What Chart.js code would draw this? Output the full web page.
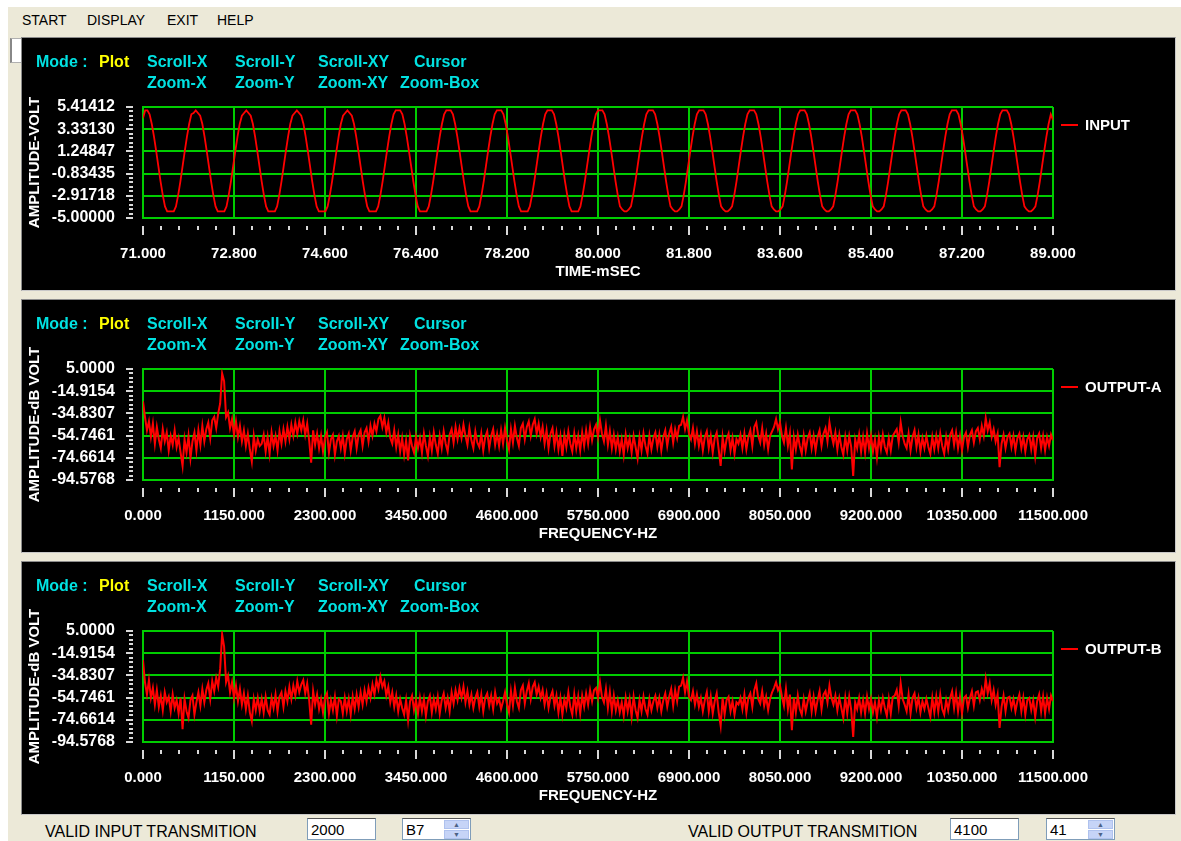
<!DOCTYPE html>
<html>
<head>
<meta charset="utf-8">
<script src="https://cdn.jsdelivr.net/npm/chart.js@4.4.1/dist/chart.umd.min.js"></script>
<style>
  body { margin:0; width:1181px; height:841px; background:#fff; overflow:hidden; position:relative;
         font-family:'Liberation Sans', Arial, sans-serif; }
  #frame { position:absolute; left:8px; top:7px; width:1173px; height:834px; background:#ECE9D8; }
  .menu { position:absolute; top:12px; font-size:14px; color:#000; }
  .thumb { position:absolute; left:10px; top:38px; width:9px; height:23px; background:#fff;
           border:1px solid #b0b0b0; border-left:2px solid #888; }
  .panel { position:absolute; left:21px; width:1153px; height:252px; background:#000;
           border:1px solid #8c8c8c; border-right-color:#c8c8c8; border-bottom-color:#c8c8c8; }
  .panel canvas { position:absolute; left:0; top:0; }
  .mode { position:absolute; font-size:16px; font-weight:bold; line-height:18px; color:#00E2E2; white-space:nowrap; }
  .mode.y { color:#FFFF00; }
  .leg { position:absolute; left:1063px; font-size:15px; font-weight:bold; color:#fff; line-height:18px; white-space:nowrap; }
  .leg i { position:absolute; left:-1px; top:8px; width:17px; height:2px; background:#ff0000; }
  .leg span { position:absolute; left:23px; top:0; }
  .lbl { position:absolute; top:823px; font-size:16px; color:#000; white-space:nowrap; }
  .box { position:absolute; top:818px; width:69px; height:22px; background:#fff; border:1px solid #7F9DB9;
         border-top-color:#555; font-size:15px; line-height:22px; padding-left:3px; box-sizing:border-box; }
  .spin { position:absolute; right:1px; top:1px; width:25px; }
  .spin div { height:9px; margin-bottom:1px; background:#C6D4F7; border:1px solid #AFC2EE; box-sizing:border-box;
              font-size:7px; line-height:7px; text-align:center; color:#4D6185; }
</style>
</head>
<body>
<div id="frame"></div>
<div class="menu" style="left:22px">START</div>
<div class="menu" style="left:87px">DISPLAY</div>
<div class="menu" style="left:167px">EXIT</div>
<div class="menu" style="left:217px">HELP</div>
<div class="thumb"></div>

<div class="panel" style="top:37px" id="p1"><canvas id="c1" width="1153" height="252"></canvas></div>
<div class="panel" style="top:299px" id="p2"><canvas id="c2" width="1153" height="252"></canvas></div>
<div class="panel" style="top:561px" id="p3"><canvas id="c3" width="1153" height="252"></canvas></div>

<div class="lbl" style="left:45px">VALID INPUT TRANSMITION</div>
<div class="box" style="left:307px">2000</div>
<div class="box" style="left:402px">B7<div class="spin"><div>&#9650;</div><div>&#9660;</div></div></div>
<div class="lbl" style="left:688px">VALID OUTPUT TRANSMITION</div>
<div class="box" style="left:950px">4100</div>
<div class="box" style="left:1046px">41<div class="spin"><div>&#9650;</div><div>&#9660;</div></div></div>

<script>
// tick labels
const voltTicks = ['5.41412', '3.33130', '1.24847', '-0.83435', '-2.91718', '-5.00000'];
const dbTicks = ['5.0000', '-14.9154', '-34.8307', '-54.7461', '-74.6614', '-94.5768'];
const timeTicks = ['71.000', '72.800', '74.600', '76.400', '78.200', '80.000',
                   '81.800', '83.600', '85.400', '87.200', '89.000'];
const freqTicks = ['0.000', '1150.000', '2300.000', '3450.000', '4600.000', '5750.000',
                   '6900.000', '8050.000', '9200.000', '10350.000', '11500.000'];

// input: one sample every 1/23 ms starting at 71.000 ms (volts)
const T_START = 71.0;
const T_STEP = 18 / 414;
const inputVolt = [
  4.35, 5.10, 5.10, 4.73, 3.82, 2.64, 1.28, -0.16, -1.58, -2.86, -3.91, -4.38, -4.38, -4.38, -4.38, -3.91, -2.86, -1.58, -0.16, 1.28, 2.64, 3.82, 4.73,
  4.85, 5.10, 4.85, 4.60, 3.82, 2.64, 1.28, -0.16, -1.58, -2.86, -3.91, -4.38, -4.38, -4.38, -4.38, -3.91, -2.86, -1.58, -0.16, 1.28, 2.64, 3.82, 4.60,
  4.85, 5.10, 4.85, 4.60, 3.82, 2.64, 1.28, -0.16, -1.58, -2.86, -3.91, -4.38, -4.38, -4.38, -4.38, -3.91, -2.86, -1.58, -0.16, 1.28, 2.64, 3.82, 4.60,
  4.85, 5.10, 4.85, 4.60, 3.82, 2.64, 1.28, -0.16, -1.58, -2.86, -3.91, -4.38, -4.38, -4.38, -4.38, -3.91, -2.86, -1.58, -0.16, 1.28, 2.64, 3.82, 4.60,
  4.85, 5.10, 4.85, 4.60, 3.82, 2.64, 1.28, -0.16, -1.58, -2.86, -3.91, -4.38, -4.38, -4.38, -4.38, -3.91, -2.86, -1.58, -0.16, 1.28, 2.64, 3.82, 4.73,
  5.10, 5.10, 5.10, 4.73, 3.82, 2.64, 1.28, -0.16, -1.58, -2.86, -3.91, -4.38, -4.38, -4.38, -4.38, -3.91, -2.86, -1.58, -0.16, 1.28, 2.64, 3.82, 4.73,
  5.10, 5.10, 5.10, 4.73, 3.82, 2.64, 1.28, -0.16, -1.58, -2.86, -3.91, -4.38, -4.38, -4.38, -4.38, -3.91, -2.86, -1.58, -0.16, 1.28, 2.64, 3.82, 4.73,
  5.10, 5.10, 5.10, 4.73, 3.82, 2.64, 1.28, -0.16, -1.58, -2.86, -3.91, -4.38, -4.38, -4.38, -4.38, -3.91, -2.86, -1.58, -0.16, 1.28, 2.64, 3.82, 4.73,
  5.10, 5.10, 5.10, 4.73, 3.82, 2.64, 1.28, -0.16, -1.58, -2.86, -3.91, -4.38, -4.38, -4.38, -4.38, -3.91, -2.86, -1.58, -0.16, 1.28, 2.64, 3.82, 4.73,
  5.10, 5.10, 5.10, 4.73, 3.82, 2.64, 1.28, -0.16, -1.58, -2.86, -3.91, -4.20, -4.38, -4.38, -4.20, -3.91, -2.86, -1.58, -0.16, 1.28, 2.64, 3.82, 4.73,
  5.10, 5.10, 5.10, 4.73, 3.82, 2.64, 1.28, -0.16, -1.58, -2.86, -3.91, -4.20, -4.38, -4.38, -4.20, -3.91, -2.86, -1.58, -0.16, 1.28, 2.64, 3.82, 4.73,
  5.10, 5.10, 5.10, 4.73, 3.82, 2.64, 1.28, -0.16, -1.58, -2.86, -3.91, -4.20, -4.38, -4.38, -4.20, -3.91, -2.86, -1.58, -0.16, 1.28, 2.64, 3.82, 4.73,
  5.10, 5.10, 5.10, 4.73, 3.82, 2.64, 1.28, -0.16, -1.58, -2.86, -3.91, -4.20, -4.38, -4.38, -4.20, -3.91, -2.86, -1.58, -0.16, 1.28, 2.64, 3.82, 4.73,
  5.10, 5.10, 5.10, 4.73, 3.82, 2.64, 1.28, -0.16, -1.58, -2.86, -3.91, -4.20, -4.38, -4.38, -4.20, -3.91, -2.86, -1.58, -0.16, 1.28, 2.64, 3.82, 4.73,
  5.10, 5.10, 5.10, 4.73, 3.82, 2.64, 1.28, -0.16, -1.58, -2.86, -3.91, -4.20, -4.38, -4.38, -4.20, -3.91, -2.86, -1.58, -0.16, 1.28, 2.64, 3.82, 4.73,
  5.10, 5.10, 5.10, 4.73, 3.82, 2.64, 1.28, -0.16, -1.58, -2.86, -3.91, -4.20, -4.38, -4.38, -4.20, -3.91, -2.86, -1.58, -0.16, 1.28, 2.64, 3.82, 4.73,
  5.10, 5.10, 5.10, 4.73, 3.82, 2.64, 1.28, -0.16, -1.58, -2.86, -3.91, -4.20, -4.38, -4.38, -4.20, -3.91, -2.86, -1.58, -0.16, 1.28, 2.64, 3.82, 4.73,
  5.10, 5.10, 5.10, 4.73, 3.82, 2.64, 1.28, -0.16, -1.58, -2.86, -3.91, -4.20, -4.38, -4.38, -4.20, -3.91, -2.86, -1.58, -0.16, 1.28, 2.64, 3.82, 4.73,
  4.20
];

// spectra: one bin every 25 Hz from 0 to 11500 Hz (dB)
const F_STEP = 25;
const outputA = [
  -24, -38, -50, -42, -56, -44, -62, -47, -58, -66, -49, -60, -52, -68, -55, -63, -50, -65, -57, -70,
  -82, -58, -70, -55, -75, -60, -52, -68, -50, -63, -46, -60, -49, -43, -57, -41, -38, -48, -35, -26,
  1, -6, -38, -34, -48, -40, -54, -42, -56, -46, -60, -50, -64, -53, -67, -78, -55, -68, -58, -64,
  -62, -54, -69, -56, -71, -52, -64, -55, -68, -51, -62, -49, -60, -47, -58, -45, -55, -43, -53, -42,
  -50, -41, -54, -44, -59, -79, -50, -63, -53, -66, -55, -69, -57, -52, -70, -58, -54, -72, -60, -55,
  -66, -55, -71, -58, -53, -68, -56, -51, -66, -54, -50, -64, -52, -48, -60, -46, -55, -44, -51, -40,
  -37, -47, -39, -52, -43, -57, -62, -50, -65, -54, -69, -57, -72, -59, -77, -55, -64, -70, -56, -66,
  -57, -70, -53, -64, -73, -56, -68, -52, -63, -71, -55, -66, -51, -62, -69, -54, -49, -61, -47, -58,
  -48, -57, -45, -55, -63, -48, -59, -66, -51, -61, -65, -53, -68, -56, -51, -66, -55, -49, -63, -53,
  -64, -50, -62, -48, -59, -67, -49, -61, -46, -57, -64, -48, -44, -58, -47, -42, -55, -45, -40, -53,
  -44, -56, -47, -62, -50, -66, -53, -48, -64, -52, -67, -55, -73, -54, -65, -51, -62, -69, -53, -66,
  -55, -68, -52, -64, -50, -62, -47, -59, -49, -45, -56, -41, -53, -60, -46, -63, -51, -66, -54, -67,
  -56, -69, -58, -72, -54, -66, -57, -70, -55, -65, -75, -56, -68, -53, -64, -71, -55, -67, -57, -52,
  -65, -54, -68, -56, -50, -64, -53, -47, -61, -49, -57, -46, -45, -38, -49, -41, -53, -58, -48, -62,
  -51, -64, -54, -68, -56, -51, -66, -55, -70, -57, -52, -67, -82, -56, -69, -58, -53, -68, -57, -71,
  -58, -62, -54, -66, -53, -67, -56, -50, -64, -47, -43, -55, -61, -48, -63, -53, -67, -55, -51, -47,
  -40, -49, -43, -55, -61, -48, -64, -53, -85, -56, -67, -54, -64, -71, -55, -68, -57, -52, -66, -55,
  -68, -56, -50, -64, -53, -48, -60, -43, -54, -62, -52, -67, -54, -65, -72, -56, -68, -55, -65, -91,
  -58, -66, -54, -69, -56, -70, -53, -66, -55, -69, -58, -74, -56, -67, -54, -65, -70, -57, -68, -55,
  -52, -49, -61, -43, -55, -62, -66, -53, -68, -56, -50, -65, -54, -69, -57, -66, -55, -65, -71, -56,
  -67, -55, -66, -53, -64, -71, -56, -67, -54, -50, -63, -52, -66, -55, -68, -56, -52, -65, -54, -50,
  -61, -51, -48, -58, -46, -55, -39, -50, -43, -56, -49, -60, -53, -83, -62, -54, -66, -56, -53, -65,
  -55, -68, -57, -53, -66, -56, -69, -58, -54, -67, -56, -73, -57, -53, -66, -55, -68, -56, -64, -54,
  -59
];
const outputB = [
  -21, -41, -52, -39, -55, -46, -61, -48, -63, -53, -66, -50, -59, -54, -67, -52, -64, -57, -69, -55,
  -83, -56, -67, -73, -57, -53, -70, -59, -50, -62, -47, -59, -48, -42, -56, -40, -49, -37, -45, -29,
  2, -9, -41, -35, -50, -41, -55, -44, -58, -47, -61, -51, -65, -53, -68, -76, -56, -66, -55, -67,
  -56, -68, -54, -66, -70, -55, -64, -52, -67, -54, -50, -63, -49, -58, -45, -56, -44, -53, -40, -50,
  -43, -39, -51, -42, -57, -79, -49, -61, -52, -65, -56, -68, -55, -51, -69, -57, -66, -54, -71, -56,
  -58, -69, -55, -67, -56, -70, -54, -65, -52, -63, -50, -61, -48, -58, -46, -55, -43, -52, -39, -47,
  -36, -45, -40, -53, -45, -59, -50, -63, -53, -67, -56, -64, -70, -57, -75, -58, -53, -66, -57, -69,
  -55, -67, -56, -71, -58, -53, -68, -56, -65, -54, -69, -57, -51, -64, -55, -67, -50, -60, -48, -57,
  -46, -55, -45, -59, -49, -61, -52, -64, -55, -50, -63, -52, -67, -55, -51, -62, -53, -65, -50, -60,
  -56, -65, -58, -50, -61, -68, -49, -62, -46, -58, -64, -48, -44, -60, -49, -42, -56, -45, -41, -52,
  -45, -55, -48, -61, -51, -64, -54, -49, -62, -53, -68, -55, -70, -56, -64, -50, -63, -70, -52, -67,
  -54, -69, -53, -63, -51, -61, -48, -58, -48, -46, -55, -41, -54, -59, -47, -64, -50, -67, -53, -66,
  -57, -68, -59, -71, -55, -67, -56, -72, -54, -66, -73, -57, -67, -54, -65, -70, -56, -66, -58, -53,
  -64, -55, -67, -57, -51, -63, -54, -47, -62, -48, -58, -45, -44, -37, -50, -40, -54, -57, -49, -61,
  -52, -63, -55, -67, -57, -50, -67, -54, -69, -58, -51, -68, -80, -55, -70, -57, -54, -67, -58, -70,
  -59, -61, -55, -65, -52, -68, -55, -51, -63, -48, -42, -56, -60, -49, -62, -54, -66, -56, -50, -46,
  -41, -48, -44, -54, -62, -47, -65, -52, -84, -55, -68, -53, -65, -70, -56, -67, -58, -51, -67, -54,
  -67, -57, -49, -65, -52, -49, -59, -44, -55, -61, -53, -66, -55, -64, -73, -55, -69, -54, -66, -90,
  -59, -65, -55, -68, -57, -69, -54, -65, -56, -68, -59, -72, -57, -66, -55, -64, -71, -56, -69, -54,
  -53, -48, -62, -42, -56, -61, -67, -52, -69, -55, -51, -64, -55, -68, -58, -65, -56, -64, -72, -55,
  -68, -54, -67, -52, -65, -70, -57, -66, -55, -49, -64, -51, -67, -54, -69, -55, -53, -64, -55, -49,
  -62, -50, -49, -57, -47, -54, -38, -51, -42, -57, -48, -61, -52, -82, -63, -53, -67, -55, -54, -64,
  -56, -67, -58, -52, -67, -55, -70, -57, -55, -66, -57, -72, -58, -52, -67, -54, -69, -55, -65, -53,
  -58
];

const GREEN = '#00CC00';
Chart.defaults.font.family = "'Liberation Sans', Arial, sans-serif";

// short tick marks outside the plot, 5 steps between labels
const tickMarks = {
  id: 'tickMarks',
  afterDraw(chart) {
    const { ctx, chartArea: a, scales: { x, y } } = chart;
    ctx.save();
    ctx.strokeStyle = '#d8d8d8';
    ctx.lineWidth = 2;
    const line = (x1, y1, x2, y2) => { ctx.beginPath(); ctx.moveTo(x1, y1); ctx.lineTo(x2, y2); ctx.stroke(); };
    const yp = y.ticks.map(t => y.getPixelForValue(t.value));
    yp.forEach((p, i) => {
      line(a.left - 17, Math.round(p), a.left - 10, Math.round(p));
      if (i < yp.length - 1) {
        for (let k = 1; k < 5; k++) {
          const q = Math.round(p + (yp[i + 1] - p) * k / 5);
          line(a.left - 14, q, a.left - 10, q);
        }
      }
    });
    const xp = x.ticks.map(t => x.getPixelForValue(t.value));
    xp.forEach((p, i) => {
      line(Math.round(p), a.bottom + 8, Math.round(p), a.bottom + 17);
      if (i < xp.length - 1) {
        for (let k = 1; k < 5; k++) {
          const q = Math.round(p + (xp[i + 1] - p) * k / 5);
          line(q, a.bottom + 8, q, a.bottom + 12);
        }
      }
    });
    ctx.restore();
  }
};

function makePanel(id, values, x0, dx, xTicks, yTicks, xTitle, yTitle, lw) {
  const pts = values.map((v, i) => ({ x: x0 + i * dx, y: v }));
  const xt = xTicks.map(Number);
  const yt = yTicks.map(Number);
  return new Chart(document.getElementById(id), {
    type: 'line',
    data: { datasets: [{ data: pts, borderColor: '#ff0000', borderWidth: lw, pointRadius: 0, tension: 0 }] },
    options: {
      responsive: false,
      animation: false,
      events: [],
      layout: { padding: { top: 69, right: 122, left: 0, bottom: 0 } },
      plugins: { legend: { display: false }, tooltip: { enabled: false } },
      scales: {
        x: {
          type: 'linear',
          min: xt[0], max: xt[xt.length - 1],
          afterBuildTicks: s => { s.ticks = xt.map(v => ({ value: v })); },
          afterFit: s => { s.height = 72; },
          ticks: { autoSkip: false, maxRotation: 0, color: '#fff', padding: 27,
                   font: { size: 15, weight: 'bold' }, callback: (v, i) => xTicks[i] },
          grid: { color: GREEN, lineWidth: 2, drawTicks: false },
          border: { color: GREEN, width: 2 },
          title: { display: true, text: xTitle, color: '#fff', font: { size: 15, weight: 'bold' },
                   padding: { top: 0, bottom: 9 } }
        },
        y: {
          min: yt[yt.length - 1], max: yt[0],
          afterBuildTicks: s => { s.ticks = yt.map(v => ({ value: v })); },
          afterFit: s => { s.width = 121; },
          ticks: { autoSkip: false, color: '#fff', padding: 28,
                   font: { size: 16, weight: 'bold' }, callback: (v, i) => yTicks[i] },
          grid: { color: GREEN, lineWidth: 2, drawTicks: false },
          border: { color: GREEN, width: 2 },
          title: { display: true, text: yTitle, color: '#fff', font: { size: 15, weight: 'bold' },
                   padding: { top: 4, bottom: 0 } }
        }
      }
    },
    plugins: [tickMarks]
  });
}

makePanel('c1', inputVolt, T_START, T_STEP, timeTicks, voltTicks, 'TIME-mSEC', 'AMPLITUDE-VOLT', 1.8);
makePanel('c2', outputA, 0, F_STEP, freqTicks, dbTicks, 'FREQUENCY-HZ', 'AMPLITUDE-dB VOLT', 2);
makePanel('c3', outputB, 0, F_STEP, freqTicks, dbTicks, 'FREQUENCY-HZ', 'AMPLITUDE-dB VOLT', 2);

// mode captions and legends in each panel
['p1', 'p2', 'p3'].forEach((pid, n) => {
  const p = document.getElementById(pid);
  const items = [
    ['Mode :', 14, 15, ''], ['Plot', 77, 15, 'y'], ['Scroll-X', 125, 15, ''], ['Scroll-Y', 213, 15, ''],
    ['Scroll-XY', 296, 15, ''], ['Cursor', 392, 15, ''], ['Zoom-X', 125, 36, ''], ['Zoom-Y', 213, 36, ''],
    ['Zoom-XY', 296, 36, ''], ['Zoom-Box', 378, 36, '']
  ];
  items.forEach(([t, l, tp, c]) => {
    const d = document.createElement('div');
    d.className = 'mode ' + c;
    d.style.left = l + 'px';
    d.style.top = tp + 'px';
    d.textContent = t;
    p.appendChild(d);
  });
  const lg = document.createElement('div');
  lg.className = 'leg';
  lg.style.left = '1040px';
  lg.style.top = '78px';
  lg.innerHTML = '<i></i><span>' + ['INPUT', 'OUTPUT-A', 'OUTPUT-B'][n] + '</span>';
  p.appendChild(lg);
});
</script>
</body>
</html>
